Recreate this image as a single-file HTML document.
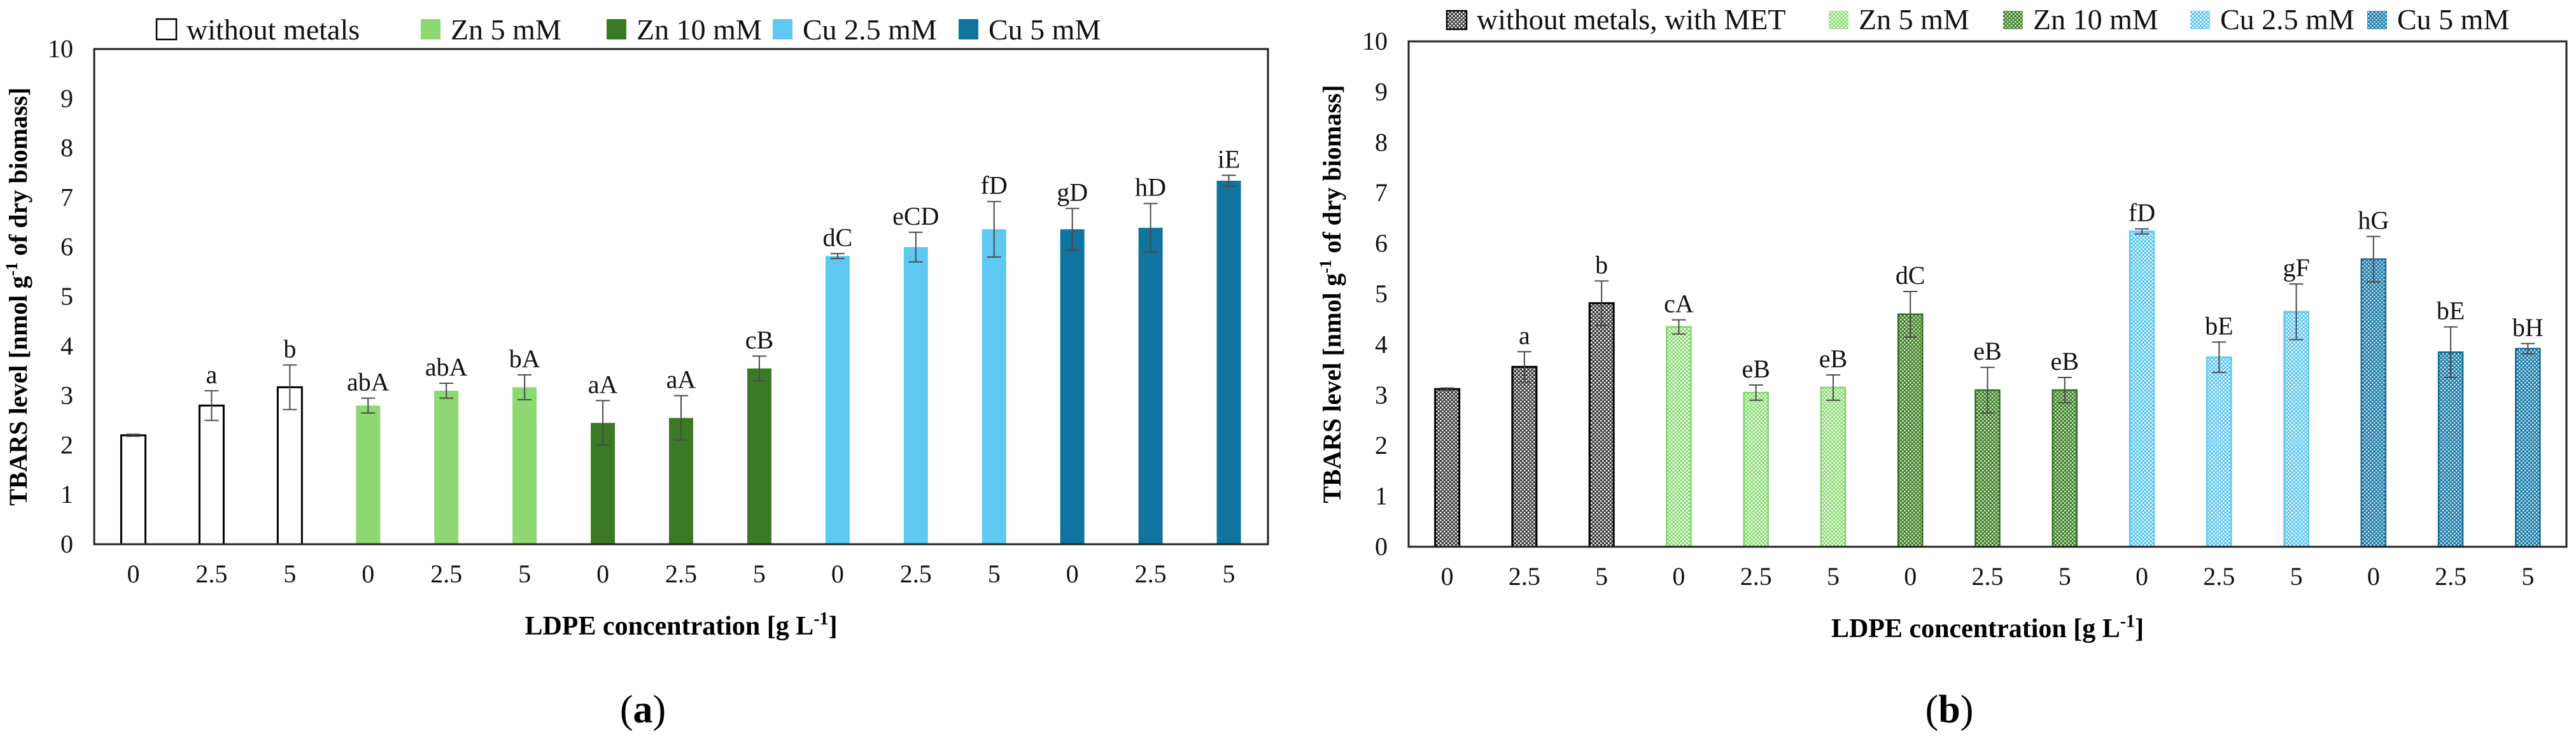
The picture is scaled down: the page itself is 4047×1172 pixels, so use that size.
<!DOCTYPE html>
<html><head><meta charset="utf-8"><style>
html,body{margin:0;padding:0;background:#fff;}
svg{display:block;font-family:"Liberation Serif",serif;}
</style></head><body>
<svg id="fig" width="4047" height="1172" viewBox="0 0 4047 1172" xmlns="http://www.w3.org/2000/svg">
<defs>
<pattern id="p0" width="6" height="6" patternUnits="userSpaceOnUse"><rect width="6" height="6" fill="#3a3a3a"/><rect width="2.5" height="2.5" fill="#fff"/><rect x="3" y="3" width="2.5" height="2.5" fill="#fff"/></pattern>
<pattern id="p1" width="6" height="6" patternUnits="userSpaceOnUse"><rect width="6" height="6" fill="#8edb78"/><rect width="2.5" height="2.5" fill="#fff"/><rect x="3" y="3" width="2.5" height="2.5" fill="#fff"/></pattern>
<pattern id="p2" width="6" height="6" patternUnits="userSpaceOnUse"><rect width="6" height="6" fill="#3f7f2a"/><rect width="2.5" height="2.5" fill="#d8ecd0"/><rect x="3" y="3" width="2.5" height="2.5" fill="#d8ecd0"/></pattern>
<pattern id="p3" width="6" height="6" patternUnits="userSpaceOnUse"><rect width="6" height="6" fill="#5cc6f0"/><rect width="2.5" height="2.5" fill="#fff"/><rect x="3" y="3" width="2.5" height="2.5" fill="#fff"/></pattern>
<pattern id="p4" width="6" height="6" patternUnits="userSpaceOnUse"><rect width="6" height="6" fill="#1a7ba6"/><rect width="2.5" height="2.5" fill="#cfe6f0"/><rect x="3" y="3" width="2.5" height="2.5" fill="#cfe6f0"/></pattern>
</defs>
</svg>
<script>
// ---- data ----
const categories = ["0","2.5","5","0","2.5","5","0","2.5","5","0","2.5","5","0","2.5","5"];
const groupOf = [0,0,0,1,1,1,2,2,2,3,3,3,4,4,4];
const yTicks = [0,1,2,3,4,5,6,7,8,9,10];
const valuesA = [2.2,2.8,3.17,2.8,3.1,3.17,2.45,2.55,3.55,5.82,6.0,6.36,6.36,6.39,7.34];
const errA = [0.02,0.3,0.45,0.15,0.15,0.25,0.45,0.45,0.25,0.05,0.3,0.56,0.42,0.49,0.11];
const lettersA = ["","a","b","abA","abA","bA","aA","aA","cB","dC","eCD","fD","gD","hD","iE"];
const valuesB = [3.12,3.56,4.82,4.35,3.05,3.15,4.6,3.1,3.1,6.24,3.75,4.65,5.69,3.85,3.92];
const errB = [0.02,0.3,0.44,0.14,0.15,0.25,0.45,0.45,0.25,0.05,0.3,0.55,0.45,0.5,0.1];
const lettersB = ["","a","b","cA","eB","eB","dC","eB","eB","fD","bE","gF","hG","bE","bH"];
const legendA = ["without metals","Zn 5 mM","Zn 10 mM","Cu 2.5 mM","Cu 5 mM"];
const legendB = ["without metals, with MET","Zn 5 mM","Zn 10 mM","Cu 2.5 mM","Cu 5 mM"];

const NS="http://www.w3.org/2000/svg";
const svg=document.getElementById('fig');
function mk(tag,attrs,parent){const e=document.createElementNS(NS,tag);for(const k in attrs)e.setAttribute(k,attrs[k]);(parent||svg).appendChild(e);return e;}

const fillsA=["#fff","#8ed872","#3b7a25","#5ec8f0","#0f74a0"];
const strokesA=["#000","#8ed872","#3b7a25","#5ec8f0","#0f74a0"];
const fillsB=["url(#p0)","url(#p1)","url(#p2)","url(#p3)","url(#p4)"];
const strokesB=["#000","#7fd66a","#2f6f1e","#5ec8f0","#146c92"];

function chart(o){
  const g=mk('g',{});
  
  
  const n=categories.length, cw=(o.x1-o.x0)/n;
  const xc=i=>o.x0+cw*(i+0.5);
  const ys=v=>o.y0-(v/10)*(o.y0-o.y1);
  // y ticks
  yTicks.forEach(t=>{
    const tx=mk('text',{x:o.x0-33,y:ys(t)+13,'text-anchor':'end','font-size':40,fill:'#111'},g);
    tx.textContent=t;
    
    
  });
  // bars
  for(let i=0;i<n;i++){
    const v=o.vals[i], gi=groupOf[i], w=38;
    const r=mk('rect',{x:xc(i)-w/2,y:ys(v),width:w,height:o.y0-ys(v),fill:o.fills[gi],stroke:o.strokes[gi],'stroke-width':gi===0?3:(o.hatch?2.5:0)},g);
    
    
    const e=o.errs[i], yt=ys(v+e), yb=ys(v-e);
    const eb=mk('path',{d:`M${xc(i)},${yt}V${yb}M${xc(i)-11},${yt}H${xc(i)+11}M${xc(i)-11},${yb}H${xc(i)+11}`,stroke:'#4a4a4a','stroke-width':2,fill:'none'},g);
    
    
    if(o.letters[i]){
      const lt=mk('text',{x:xc(i),y:yt-12,'text-anchor':'middle','font-size':40,fill:'#111'},g);
      lt.textContent=o.letters[i];
      
      
    }
    const xl=mk('text',{x:xc(i),y:o.y0+60,'text-anchor':'middle','font-size':40,fill:'#111'},g);
    xl.textContent=categories[i];
    
    
  }
  const fr=mk('rect',{x:o.x0,y:o.y1,width:o.x1-o.x0,height:o.y0-o.y1,fill:'none',stroke:'#222','stroke-width':3},g);
  
  
  // x title
  const xt=mk('text',{x:(o.x0+o.x1)/2,y:o.y0+142,'text-anchor':'middle','font-size':42,'font-weight':'bold',fill:'#000'},g);
  xt.innerHTML='LDPE concentration  [g L<tspan dy="-16" font-size="28">-1</tspan><tspan dy="16">]</tspan>';
  
  
  // y title
  const cy=(o.y0+o.y1)/2;
  const yt=mk('text',{x:0,y:0,transform:`translate(${o.ytx},${cy}) rotate(-90)`,'text-anchor':'middle','font-size':40,'font-weight':'bold',fill:'#000'},g);
  yt.innerHTML='TBARS level [nmol g<tspan dy="-15" font-size="26">-1</tspan><tspan dy="15"> of  dry biomass]</tspan>';
  
  
  // panel label
  const pl=mk('text',{x:(o.x0+o.x1)/2-60,y:1135,'text-anchor':'middle','font-size':62,fill:'#000'},g);
  pl.innerHTML='(<tspan font-weight="bold">'+o.panel+'</tspan>)';
  
  
  // legend
  o.legend.forEach((s,k)=>{
    const lg=mk('g',{},g);
    
    
    const bx=o.legX[k];
    mk('rect',{x:bx,y:o.legY-o.boxH,width:31,height:o.boxH,fill:o.fills[k],stroke:k===0?'#000':o.strokes[k],'stroke-width':k===0?2.5:0},lg);
    const t=mk('text',{x:bx+47,y:o.legY,'font-size':46,fill:'#111'},lg);
    t.textContent=s;
  });
}
chart({name:'chart-a',x0:148,x1:1992,y0:855,y1:77,vals:valuesA,errs:errA,letters:lettersA,fills:fillsA,strokes:strokesA,hatch:false,
  ytx:42,panel:'a',legend:legendA,legX:[246,661,953,1214,1506],legY:62,boxH:32});
chart({name:'chart-b',x0:2213,x1:4032,y0:859,y1:65,vals:valuesB,errs:errB,letters:lettersB,fills:fillsB,strokes:strokesB,hatch:true,
  ytx:2106,panel:'b',legend:legendB,legX:[2273,2873,3147,3441,3719],legY:46,boxH:29});
</script>
</body></html>
